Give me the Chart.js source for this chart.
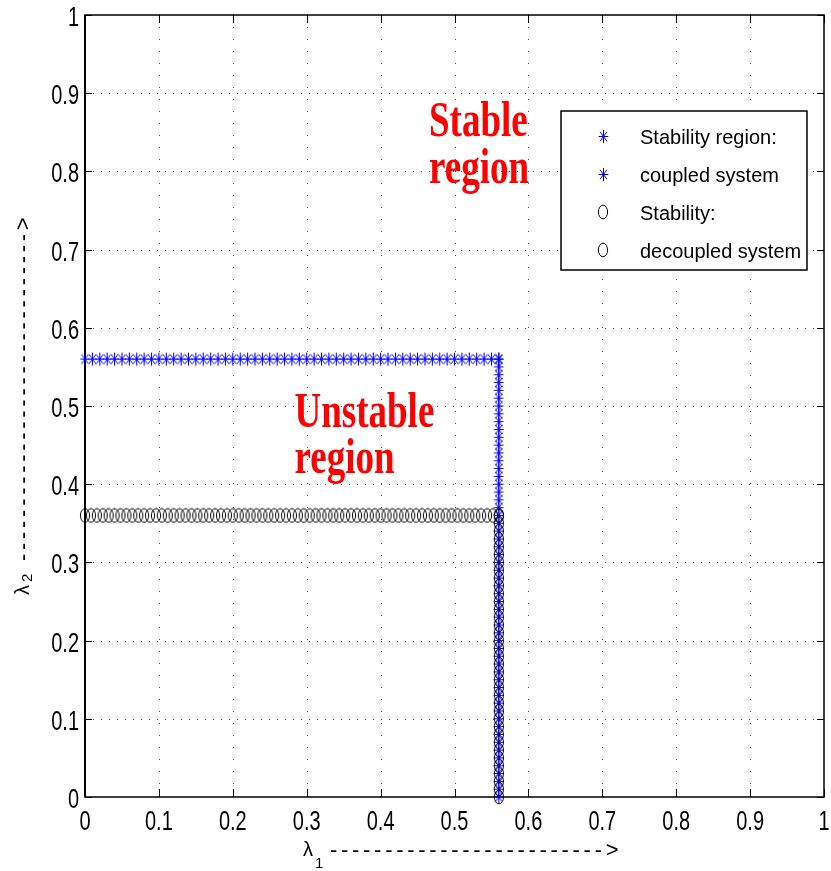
<!DOCTYPE html>
<html>
<head>
<meta charset="utf-8">
<script src="https://cdn.jsdelivr.net/npm/chart.js@4.4.0/dist/chart.umd.min.js"></script>
<style>
  html, body { margin: 0; padding: 0; background: #fff; }
</style>
</head>
<body>
<canvas id="myChart" width="831" height="871"></canvas>
<script>
// tick values on both axes
const tickValues = [0, 0.1, 0.2, 0.3, 0.4, 0.5, 0.6, 0.7, 0.8, 0.9, 1];
const tickLabels = ['0', '0.1', '0.2', '0.3', '0.4', '0.5', '0.6', '0.7', '0.8', '0.9', '1'];

// coupled system: boundary at lambda = 0.56, sampled every 0.01
const coupledLevel = 0.56;
const coupledRun = [0, 0.01, 0.02, 0.03, 0.04, 0.05, 0.06, 0.07, 0.08, 0.09,
  0.1, 0.11, 0.12, 0.13, 0.14, 0.15, 0.16, 0.17, 0.18, 0.19,
  0.2, 0.21, 0.22, 0.23, 0.24, 0.25, 0.26, 0.27, 0.28, 0.29,
  0.3, 0.31, 0.32, 0.33, 0.34, 0.35, 0.36, 0.37, 0.38, 0.39,
  0.4, 0.41, 0.42, 0.43, 0.44, 0.45, 0.46, 0.47, 0.48, 0.49,
  0.5, 0.51, 0.52, 0.53, 0.54, 0.55, 0.56];

// decoupled system: lambda1 = 0.56, lambda2 = 0.36
const decoupledX = 0.56;
const decoupledY = 0.36;
const decoupledRunX = [0, 0.008, 0.016, 0.024, 0.032, 0.04, 0.048, 0.056, 0.064, 0.072,
  0.08, 0.088, 0.096, 0.104, 0.112, 0.12, 0.128, 0.136, 0.144, 0.152,
  0.16, 0.168, 0.176, 0.184, 0.192, 0.2, 0.208, 0.216, 0.224, 0.232,
  0.24, 0.248, 0.256, 0.264, 0.272, 0.28, 0.288, 0.296, 0.304, 0.312,
  0.32, 0.328, 0.336, 0.344, 0.352, 0.36, 0.368, 0.376, 0.384, 0.392,
  0.4, 0.408, 0.416, 0.424, 0.432, 0.44, 0.448, 0.456, 0.464, 0.472,
  0.48, 0.488, 0.496, 0.504, 0.512, 0.52, 0.528, 0.536, 0.544, 0.552, 0.56];
const decoupledRunY = [0, 0.01, 0.02, 0.03, 0.04, 0.05, 0.06, 0.07, 0.08, 0.09,
  0.1, 0.11, 0.12, 0.13, 0.14, 0.15, 0.16, 0.17, 0.18, 0.19,
  0.2, 0.21, 0.22, 0.23, 0.24, 0.25, 0.26, 0.27, 0.28, 0.29,
  0.3, 0.31, 0.32, 0.33, 0.34, 0.35, 0.36];

const legendLabels = ['Stability region:', 'coupled system', 'Stability:', 'decoupled system'];

var coupledPts = coupledRun.map(v => ({x: v, y: coupledLevel}))
  .concat(coupledRun.map(v => ({x: coupledLevel, y: v})));
var decoupledPts = decoupledRunX.map(v => ({x: v, y: decoupledY}))
  .concat(decoupledRunY.map(v => ({x: decoupledX, y: v})));

const AX_FONT = '"Liberation Sans", Arial, sans-serif';
const STRETCH = 1.4; // the original figure is taller than wide

// marker images (slightly taller than wide, like the reference)
function makeStar() {
  const cv = document.createElement('canvas');
  cv.width = 11; cv.height = 15;
  const c = cv.getContext('2d');
  const cx = 5.5, cy = 7.5, rx = 4.8, ry = 6.6;
  c.strokeStyle = '#0000ff';
  c.lineWidth = 1;
  c.beginPath();
  c.moveTo(cx, cy - ry); c.lineTo(cx, cy + ry);
  c.moveTo(cx - rx, cy); c.lineTo(cx + rx, cy);
  c.moveTo(cx - rx * 0.72, cy - ry * 0.72); c.lineTo(cx + rx * 0.72, cy + ry * 0.72);
  c.moveTo(cx - rx * 0.72, cy + ry * 0.72); c.lineTo(cx + rx * 0.72, cy - ry * 0.72);
  c.stroke();
  return cv;
}
function makeRing() {
  const cv = document.createElement('canvas');
  cv.width = 12; cv.height = 16;
  const c = cv.getContext('2d');
  c.strokeStyle = '#000';
  c.lineWidth = 1;
  c.beginPath();
  c.ellipse(6, 8, 4.6, 6.8, 0, 0, Math.PI * 2);
  c.stroke();
  return cv;
}
const starImg = makeStar();
const ringImg = makeRing();

function stretchText(c, t, x, y, sy) {
  c.save();
  c.translate(x, y);
  c.scale(1, sy);
  c.fillText(t, 0, 0);
  c.restore();
}

// grid, box, ticks, labels and legend drawn matlab style
const axesBox = {
  id: 'axesBox',
  beforeDatasetsDraw(chart) {
    const c = chart.ctx, a = chart.chartArea;
    const xs = chart.scales.x, ys = chart.scales.y;
    c.save();
    c.strokeStyle = '#555';
    c.lineWidth = 1;
    tickValues.slice(1, -1).forEach(v => {
      const px = Math.round(xs.getPixelForValue(v)) + 0.5;
      c.setLineDash([1, 11]);
      c.beginPath(); c.moveTo(px, a.top); c.lineTo(px, a.bottom); c.stroke();
      const py = Math.round(ys.getPixelForValue(v)) + 0.5;
      c.setLineDash([1, 7]);
      c.beginPath(); c.moveTo(a.left, py); c.lineTo(a.right, py); c.stroke();
    });
    c.setLineDash([]);
    c.strokeStyle = '#000';
    c.lineWidth = 1;
    tickValues.forEach(v => {
      const px = Math.round(xs.getPixelForValue(v)) + 0.5;
      c.beginPath();
      c.moveTo(px, a.bottom); c.lineTo(px, a.bottom - 8);
      c.moveTo(px, a.top); c.lineTo(px, a.top + 8);
      c.stroke();
      const py = Math.round(ys.getPixelForValue(v)) + 0.5;
      c.beginPath();
      c.moveTo(a.left, py); c.lineTo(a.left + 7, py);
      c.moveTo(a.right, py); c.lineTo(a.right - 7, py);
      c.stroke();
    });
    c.lineWidth = 1.5;
    c.strokeRect(a.left, a.top, a.right - a.left, a.bottom - a.top);
    c.lineWidth = 2;
    c.beginPath(); c.moveTo(a.left, a.top); c.lineTo(a.left, a.bottom); c.stroke();

    // tick labels
    c.fillStyle = '#000';
    c.font = '20px ' + AX_FONT;
    c.textBaseline = 'alphabetic';
    c.textAlign = 'center';
    tickValues.forEach((v, i) => {
      stretchText(c, tickLabels[i], xs.getPixelForValue(v), a.bottom + 33, STRETCH);
    });
    c.textAlign = 'right';
    tickValues.forEach((v, i) => {
      stretchText(c, tickLabels[i], a.left - 6, ys.getPixelForValue(v) + 11, STRETCH);
    });

    // axis titles
    c.textAlign = 'left';
    c.font = '20px ' + AX_FONT;
    c.fillText('λ', 303, 856);
    c.font = '15px ' + AX_FONT;
    c.fillText('1', 315, 868);
    c.font = '22px ' + AX_FONT;
    c.letterSpacing = '3.7px';
    c.fillText('------------------------->', 330, 857);

    c.save();
    c.translate(29, 595);
    c.rotate(-Math.PI / 2);
    c.letterSpacing = '0px';
    c.font = '20px ' + AX_FONT;
    c.fillText('λ', 0, 0);
    c.font = '15px ' + AX_FONT;
    c.fillText('2', 13, 3);
    c.font = '22px ' + AX_FONT;
    c.letterSpacing = '3.7px';
    c.fillText('------------------------------>', 34, 1);
    c.restore();
    c.letterSpacing = '0px';
    c.restore();
  },
  afterDatasetsDraw(chart) {
    const c = chart.ctx;
    const xs = chart.scales.x, ys = chart.scales.y;
    c.save();
    // region labels
    c.fillStyle = '#ff0000';
    c.font = 'bold 37px "Liberation Serif", "Times New Roman", serif';
    c.textAlign = 'left';
    c.textBaseline = 'alphabetic';
    stretchText(c, 'Stable', xs.getPixelForValue(0.4655), ys.getPixelForValue(0.8453), 1.36);
    stretchText(c, 'region', xs.getPixelForValue(0.4655), ys.getPixelForValue(0.7852), 1.36);
    stretchText(c, 'Unstable', xs.getPixelForValue(0.2835), ys.getPixelForValue(0.4731), 1.36);
    stretchText(c, 'region', xs.getPixelForValue(0.2835), ys.getPixelForValue(0.4143), 1.36);

    // legend box
    const lx = 561, ly = 111, lw = 246, lh = 159;
    c.fillStyle = '#fff';
    c.fillRect(lx, ly, lw, lh);
    c.strokeStyle = '#000';
    c.lineWidth = 1.5;
    c.strokeRect(lx, ly, lw, lh);
    c.font = '20px ' + AX_FONT;
    c.textBaseline = 'alphabetic';
    legendLabels.forEach((t, i) => {
      const yy = 136 + i * 38;
      const img = i < 2 ? starImg : ringImg;
      c.drawImage(img, Math.round(603 - img.width / 2), Math.round(yy - img.height / 2));
      c.fillStyle = '#000';
      stretchText(c, t, 640, yy + 8, 1.05);
    });
    c.restore();
  }
};

var ctx = document.getElementById('myChart').getContext('2d');
var myChart = new Chart(ctx, {
    type: 'scatter',
    data: {
        datasets: [{
            label: 'decoupled system',
            data: decoupledPts,
            pointStyle: ringImg,
            pointRadius: 6,
            borderColor: '#000',
            backgroundColor: 'rgba(0,0,0,0)',
            clip: false,
            order: 1
        }, {
            label: 'coupled system',
            data: coupledPts,
            pointStyle: starImg,
            pointRadius: 6,
            borderColor: '#0000ff',
            backgroundColor: '#0000ff',
            clip: false,
            order: 2
        }]
    },
    options: {
        responsive: false,
        animation: false,
        layout: { padding: { left: 0, top: 15, right: 3, bottom: 0 } },
        plugins: {
            legend: { display: false },
            tooltip: { enabled: false }
        },
        scales: {
            x: {
                type: 'linear',
                min: 0, max: 1,
                afterFit: s => { s.height = 74; s.paddingLeft = 0; s.paddingRight = 0; },
                grid: { display: false },
                border: { display: false },
                ticks: { display: false }
            },
            y: {
                type: 'linear',
                min: 0, max: 1,
                afterFit: s => { s.width = 85; s.paddingTop = 0; s.paddingBottom = 0; },
                grid: { display: false },
                border: { display: false },
                ticks: { display: false }
            }
        }
    },
    plugins: [axesBox]
});
</script>
</body>
</html>
